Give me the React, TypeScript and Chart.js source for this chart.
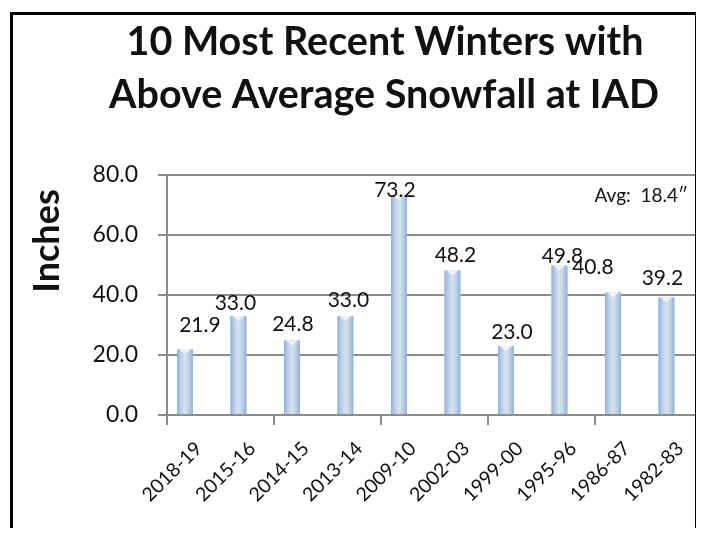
import React, { useEffect, useRef } from "react";
import { Chart, registerables } from "chart.js";

Chart.register(...registerables);

const winters = ["2018-19", "2015-16", "2014-15", "2013-14", "2009-10", "2002-03", "1999-00", "1995-96", "1986-87", "1982-83"];
const snowfall = [21.9, 33.0, 24.8, 33.0, 73.2, 48.2, 23.0, 49.8, 40.8, 39.2];
const yTicks = [0, 20, 40, 60, 80];
const titleLines = ["10 Most Recent Winters with", "Above Average Snowfall at IAD"];
const avgNote = "Avg:  18.4\u2033";
// label nudges (pixels relative to bar top), styling only
const labelDx = [15, -3, 1, 3, -4, 3, 6, 3, -20, -4];
const labelDy = [-24, -13, -16, -16, -5, -15, -14, -9, -25, -19];

const FONT = "Lato, 'Open Sans', sans-serif";

export default function App() {
  const ref = useRef<HTMLCanvasElement | null>(null);
  useEffect(() => {
    const canvas = ref.current;
    if (!canvas) return;
    const barShade = {
      id: "barShade",
      afterDatasetsDraw(chart: any) {
        const ctx = chart.ctx;
        const meta = chart.getDatasetMeta(0);
        ctx.save();
        meta.data.forEach((el: any) => {
          const { x, y, base, width } = el.getProps(["x", "y", "base", "width"], true);
          const l = x - width / 2;
          const g = ctx.createLinearGradient(l, 0, l + width, 0);
          g.addColorStop(0, "#8fb0d9");
          g.addColorStop(0.25, "#bcd0ea");
          g.addColorStop(0.5, "#d6e2f1");
          g.addColorStop(0.75, "#bcd0ea");
          g.addColorStop(1, "#8fb0d9");
          ctx.fillStyle = g;
          ctx.fillRect(l, y, width, base - y);
          ctx.fillStyle = "#eef3fa";
          ctx.beginPath();
          ctx.moveTo(l + 2, y);
          ctx.lineTo(l + width - 2, y);
          ctx.lineTo(x, y + 5);
          ctx.closePath();
          ctx.fill();
        });
        ctx.restore();
      },
    };
    const overlay = {
      id: "overlay",
      afterDraw(chart: any) {
        const ctx = chart.ctx;
        ctx.save();
        ctx.fillStyle = "#111";
        ctx.textAlign = "center";
        ctx.textBaseline = "alphabetic";
        ctx.font = `bold 39.5px ${FONT}`;
        ctx.fillText(titleLines[0], 385, 55);
        ctx.fillText(titleLines[1], 384, 108);
        ctx.save();
        ctx.translate(59, 241);
        ctx.rotate(-Math.PI / 2);
        ctx.font = `bold 36px ${FONT}`;
        ctx.fillText("Inches", 0, 0);
        ctx.restore();
        ctx.font = `19px ${FONT}`;
        ctx.textAlign = "right";
        ctx.fillText(avgNote, 688, 202);
        ctx.textAlign = "center";
        ctx.textBaseline = "middle";
        ctx.font = `21px ${FONT}`;
        const meta = chart.getDatasetMeta(0);
        meta.data.forEach((el: any, i: number) => {
          ctx.fillText(snowfall[i].toFixed(1), el.x + labelDx[i], el.y + labelDy[i]);
        });
        ctx.restore();
      },
    };
    const chart = new Chart(canvas, {
      type: "bar",
      data: {
        labels: winters,
        datasets: [
          {
            data: snowfall,
            backgroundColor: "#b9cde5",
            borderWidth: 0,
            categoryPercentage: 0.66,
            barPercentage: 0.9,
          },
          {
            data: winters.map(() => null),
            backgroundColor: "rgba(0,0,0,0)",
            categoryPercentage: 0.66,
            barPercentage: 0.9,
          },
        ],
      },
      options: {
        responsive: false,
        animation: false,
        layout: { padding: { left: 0, top: 175, right: 2, bottom: 0 } },
        plugins: { legend: { display: false }, tooltip: { enabled: false }, title: { display: false } },
        scales: {
          x: {
            offset: true,
            afterFit: (s: any) => { s.height = 121; },
            grid: {
              offset: true,
              drawOnChartArea: false,
              tickLength: 10,
              lineWidth: 2,
              color: (c: any) => (c.index % 2 === 0 ? "#8c8c8c" : "rgba(0,0,0,0)"),
            },
            border: { display: true, color: "#8c8c8c", width: 2 },
            ticks: {
              minRotation: 45,
              maxRotation: 45,
              autoSkip: false,
              padding: 12,
              labelOffset: 5,
              color: "#111",
              font: { family: FONT, size: 19.5 },
            },
          },
          y: {
            min: 0,
            max: 80,
            afterFit: (s: any) => { s.width = 167; },
            afterBuildTicks: (s: any) => { s.ticks = yTicks.map((v) => ({ value: v })); },
            grid: { color: "#8c8c8c", lineWidth: 2, tickLength: 9 },
            border: { display: true, color: "#8c8c8c", width: 2 },
            ticks: {
              padding: 20,
              color: "#111",
              font: { family: FONT, size: 23 },
              callback: (v: any) => Number(v).toFixed(1),
            },
          },
        },
      },
      plugins: [barShade, overlay],
    });
    return () => chart.destroy();
  }, []);
  return (
    <div style={{ position: "relative", width: 704, height: 536, margin: -8, overflow: "hidden", background: "#fff" }}>
      <canvas ref={ref} width={704} height={536} style={{ position: "absolute", left: 0, top: 0, width: 704, height: 536 }} />
      <div
        style={{
          position: "absolute",
          left: 10,
          top: 12,
          width: 688,
          height: 600,
          border: "3px solid #000",
          boxSizing: "border-box",
          pointerEvents: "none",
        }}
      />
    </div>
  );
}
